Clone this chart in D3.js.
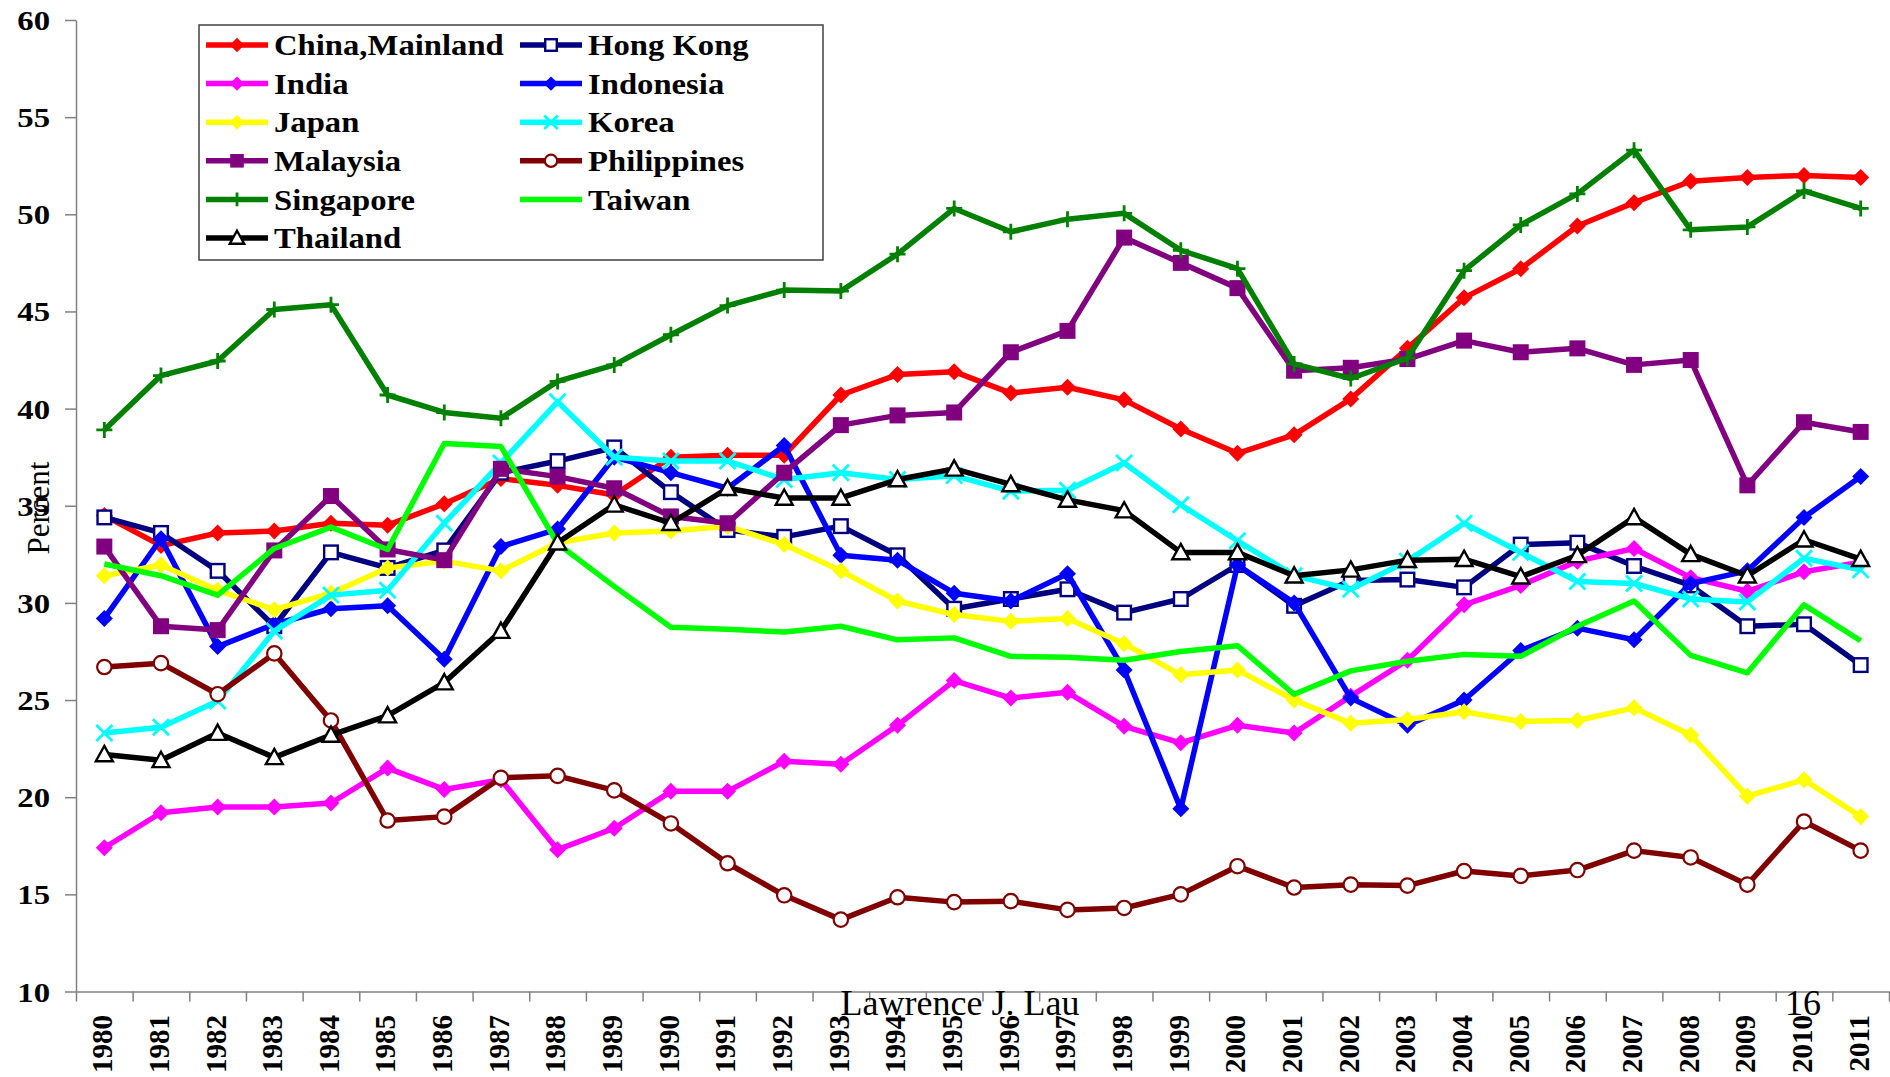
<!DOCTYPE html>
<html>
<head>
<meta charset="utf-8">
<script src="https://cdn.jsdelivr.net/npm/d3@7"></script>
<style>
  body { margin: 0; background: #fff; }
  svg { display: block; }
  text { font-family: "Liberation Serif", "Times New Roman", serif; fill: #000; }
</style>
</head>
<body>
<svg id="chart" width="1890" height="1077"></svg>
<script>

// data, percent
var years = d3.range(1980, 2012);
var yTicks = [10, 15, 20, 25, 30, 35, 40, 45, 50, 55, 60];

var china = [34.5, 32.95, 33.6, 33.7, 34.1, 34.0, 35.1, 36.4, 36.05, 35.55, 37.5, 37.6, 37.6, 40.7, 41.75, 41.9,
    40.8, 41.1, 40.45, 38.95, 37.7, 38.65, 40.5, 43.1, 45.7, 47.2, 49.4, 50.6, 51.7, 51.9, 52.0, 51.9];
var hongKong = [34.4, 33.6, 31.65, 28.8, 32.6, 31.8, 32.7, 36.7, 37.3, 38.0, 35.7, 33.75, 33.4, 33.95, 32.45, 29.7,
    30.2, 30.7, 29.5, 30.2, 31.95, 29.85, 31.15, 31.2, 30.8, 33.0, 33.1, 31.9, 30.9, 28.8, 28.9, 26.8];
var india = [17.4, 19.2, 19.5, 19.5, 19.7, 21.5, 20.4, 20.9, 17.3, 18.4, 20.3, 20.3, 21.85, 21.7, 23.7, 26.0,
    25.1, 25.4, 23.65, 22.8, 23.7, 23.3, 25.2, 27.05, 29.9, 30.9, 32.15, 32.8, 31.3, 30.6, 31.6, 32.1];
var indonesia = [29.2, 33.3, 27.75, 28.9, 29.7, 29.85, 27.1, 32.9, 33.8, 37.5, 36.7, 35.9, 38.1, 32.45, 32.2, 30.5,
    30.1, 31.5, 26.55, 19.4, 31.95, 30.0, 25.1, 23.7, 25.0, 27.55, 28.7, 28.1, 31.0, 31.65, 34.4, 36.5];
var japan = [31.4, 31.95, 30.65, 29.65, 30.5, 31.8, 32.15, 31.65, 33.1, 33.6, 33.7, 33.95, 33.0, 31.65, 30.1, 29.4,
    29.05, 29.2, 27.9, 26.3, 26.55, 25.0, 23.8, 24.0, 24.4, 23.9, 23.95, 24.6, 23.2, 20.05, 20.9, 19.0];
var korea = [23.3, 23.6, 24.95, 28.55, 30.4, 30.65, 34.1, 37.2, 40.35, 37.5, 37.3, 37.3, 36.35, 36.7, 36.35, 36.55,
    35.75, 35.8, 37.2, 35.05, 33.2, 31.4, 30.7, 32.15, 34.1, 32.6, 31.1, 31.0, 30.2, 30.05, 32.3, 31.7];
var malaysia = [32.9, 28.8, 28.6, 32.7, 35.5, 32.75, 32.2, 36.9, 36.5, 35.9, 34.45, 34.1, 36.7, 39.15, 39.65, 39.8,
    42.9, 44.0, 48.8, 47.5, 46.2, 41.95, 42.1, 42.55, 43.5, 42.9, 43.1, 42.25, 42.5, 36.05, 39.3, 38.8];
var philippines = [26.7, 26.9, 25.3, 27.4, 23.95, 18.8, 19.0, 21.0, 21.1, 20.35, 18.65, 16.6, 14.95, 13.7, 14.85, 14.6,
    14.65, 14.2, 14.3, 15.0, 16.45, 15.35, 15.5, 15.45, 16.2, 15.95, 16.25, 17.25, 16.9, 15.5, 18.75, 17.25];
var singapore = [38.9, 41.7, 42.45, 45.1, 45.35, 40.7, 39.8, 39.5, 41.4, 42.25, 43.8, 45.3, 46.1, 46.05, 47.95, 50.3,
    49.1, 49.75, 50.05, 48.15, 47.2, 42.3, 41.55, 42.6, 47.1, 49.45, 51.05, 53.3, 49.2, 49.35, 51.2, 50.3];
var taiwan = [32.0, 31.4, 30.4, 32.8, 33.9, 32.75, 38.2, 38.05, 33.05, 30.85, 28.75, 28.65, 28.5, 28.8, 28.1, 28.2,
    27.25, 27.2, 27.05, 27.5, 27.8, 25.3, 26.5, 27.0, 27.35, 27.25, 28.8, 30.1, 27.3, 26.4, 29.9, 28.05];
var thailand = [22.2, 21.9, 23.3, 22.05, 23.2, 24.2, 25.9, 28.55, 33.1, 35.05, 34.1, 35.9, 35.4, 35.4, 36.35, 36.9,
    36.1, 35.3, 34.75, 32.6, 32.6, 31.4, 31.7, 32.2, 32.25, 31.35, 32.45, 34.4, 32.5, 31.4, 33.25, 32.25];


var series = [
    {name: 'China,Mainland', values: china, color: '#ff0000', marker: 'diamond'},
    {name: 'Hong Kong', values: hongKong, color: '#000080', marker: 'openSquare'},
    {name: 'India', values: india, color: '#ff00ff', marker: 'diamond'},
    {name: 'Indonesia', values: indonesia, color: '#0000ff', marker: 'diamond'},
    {name: 'Japan', values: japan, color: '#ffff00', marker: 'diamond'},
    {name: 'Korea', values: korea, color: '#00ffff', marker: 'cross'},
    {name: 'Malaysia', values: malaysia, color: '#800080', marker: 'square'},
    {name: 'Philippines', values: philippines, color: '#800000', marker: 'circle'},
    {name: 'Singapore', values: singapore, color: '#008000', marker: 'plus'},
    {name: 'Taiwan', values: taiwan, color: '#00ff00', marker: 'none'},
    {name: 'Thailand', values: thailand, color: '#000000', marker: 'triangle'}
];

var svg = d3.select('#chart');
var axisColor = '#808080';

var x = d3.scaleBand()
    .domain(years)
    .range([76, 1889]);

// band edges, for the tick marks between years
var xEdge = d3.scaleLinear()
    .domain([0, years.length])
    .range(x.range());

var y = d3.scaleLinear()
    .domain([10, 60])
    .range([991.5, 20]);

//draw a marker at the origin of a group
function drawMarker(g, type, color, k) {
    k = k || 1;
    var s = 8.5 * k;
    if (type == 'diamond') {
        g.append('path')
            .attr('d', 'M0,' + (-s) + 'L' + s + ',0L0,' + s + 'L' + (-s) + ',0Z')
            .attr('fill', color);
    } else if (type == 'square') {
        s = 8 * k;
        g.append('rect')
            .attr('x', -s).attr('y', -s)
            .attr('width', 2 * s).attr('height', 2 * s)
            .attr('fill', color);
    } else if (type == 'openSquare') {
        s = 6.8 * k;
        g.append('rect')
            .attr('x', -s).attr('y', -s)
            .attr('width', 2 * s).attr('height', 2 * s)
            .attr('fill', '#fff')
            .attr('stroke', color)
            .attr('stroke-width', 2.4);
    } else if (type == 'circle') {
        g.append('circle')
            .attr('r', 7.2 * k)
            .attr('fill', '#fff')
            .attr('stroke', color)
            .attr('stroke-width', 2.2);
    } else if (type == 'triangle') {
        s = 8.5 * k;
        g.append('path')
            .attr('d', 'M0,' + (-s) + 'L' + s + ',' + (s * 0.8) + 'L' + (-s) + ',' + (s * 0.8) + 'Z')
            .attr('fill', '#fff')
            .attr('stroke', color)
            .attr('stroke-width', 2.4);
    } else if (type == 'cross') {
        s = 8 * k;
        g.append('path')
            .attr('d', 'M' + (-s) + ',' + (-s) + 'L' + s + ',' + s + 'M' + s + ',' + (-s) + 'L' + (-s) + ',' + s)
            .attr('stroke', color)
            .attr('stroke-width', 2.8);
    } else if (type == 'plus') {
        s = 8 * k;
        g.append('path')
            .attr('d', 'M' + (-s) + ',0H' + s + 'M0,' + (-s) + 'V' + s)
            .attr('stroke', color)
            .attr('stroke-width', 2.8);
    }
}

// y axis
var yAxis = svg.append('g')
    .attr('class', 'y axis')
    .attr('transform', 'translate(76,0)')
    .call(d3.axisLeft(y)
        .tickValues(yTicks)
        .tickSize(11)
        .tickSizeOuter(0));

yAxis.select('.domain').attr('stroke', axisColor).attr('stroke-width', 1.5);
yAxis.selectAll('.tick line').attr('stroke', axisColor).attr('stroke-width', 1.5);
yAxis.selectAll('.tick text')
    .attr('font-family', '"Liberation Serif", serif')
    .attr('font-weight', 'bold')
    .attr('font-size', 28)
    .attr('fill', '#000')
    .attr('text-anchor', 'end')
    .attr('x', -26 / 1.17)
    .attr('dy', '0.34em')
    .attr('transform', 'scale(1.17,1)');

// x axis: tick marks on band edges
var xAxis = svg.append('g')
    .attr('class', 'x axis')
    .attr('transform', 'translate(0,' + y(10) + ')')
    .call(d3.axisBottom(xEdge)
        .tickValues(d3.range(0, years.length + 1))
        .tickFormat('')
        .tickSize(10)
        .tickSizeOuter(0));

xAxis.select('.domain').attr('stroke', axisColor).attr('stroke-width', 1.5);
xAxis.selectAll('.tick line').attr('stroke', axisColor).attr('stroke-width', 1.5);

// year labels, rotated
svg.append('g')
    .selectAll('.year_label')
    .data(years)
    .enter()
    .append('text')
    .attr('class', 'year_label')
    .attr('transform', function(yr) {
        return 'translate(' + (x(yr) + x.bandwidth() / 2 - 2) + ',1015) rotate(-90)';
    })
    .attr('text-anchor', 'end')
    .attr('dy', '0.34em')
    .attr('font-weight', 'bold')
    .attr('font-size', 29)
    .text(_ => _);

// y axis title
svg.append('text')
    .attr('transform', 'translate(49,508) rotate(-90)')
    .attr('text-anchor', 'middle')
    .attr('font-size', 31)
    .text('Percent');

// series
var line = d3.line()
    .x(function(d, i) { return x(years[i]) + x.bandwidth() / 2; })
    .y(function(d) { return y(d); });

series.forEach(function(s) {

    var g = svg.append('g').attr('class', 'series');

    g.append('path')
        .datum(s.values)
        .attr('d', line)
        .attr('fill', 'none')
        .attr('stroke', s.color)
        .attr('stroke-width', 5.5)
        .attr('stroke-linejoin', 'round');

    g.selectAll('.pt')
        .data(s.values)
        .enter()
        .append('g')
        .attr('class', 'pt')
        .attr('transform', function(d, i) {
            return 'translate(' + (x(years[i]) + x.bandwidth() / 2) + ',' + y(d) + ')';
        })
        .each(function() {
            drawMarker(d3.select(this), s.marker, s.color);
        });
});

// legend
var legend = svg.append('g').attr('class', 'legend');

legend.append('rect')
    .attr('x', 199).attr('y', 25)
    .attr('width', 624).attr('height', 235)
    .attr('fill', '#fff')
    .attr('stroke', '#404040')
    .attr('stroke-width', 1.5);

var items = legend.selectAll('.item')
    .data(series)
    .enter()
    .append('g')
    .attr('class', 'item')
    .attr('transform', function(s, i) {
        var col = i % 2, row = Math.floor(i / 2);
        return 'translate(' + (col == 0 ? 206 : 520) + ',' + (45 + row * 38.6) + ')';
    });

items.append('line')
    .attr('x1', 0).attr('x2', 62)
    .attr('stroke', function(s) { return s.color; })
    .attr('stroke-width', 5.5);

items.append('g')
    .attr('transform', 'translate(31,0)')
    .each(function(s) {
        drawMarker(d3.select(this), s.marker, s.color, 0.85);
    });

items.append('text')
    .attr('x', 68 / 1.09)
    .attr('dy', '0.34em')
    .attr('font-weight', 'bold')
    .attr('font-size', 30)
    .attr('transform', 'scale(1.09,1)')
    .text(function(s) { return s.name; });

// footer texts
svg.append('text')
    .attr('x', 960).attr('y', 1015)
    .attr('text-anchor', 'middle')
    .attr('font-size', 36)
    .text('Lawrence J. Lau');

svg.append('text')
    .attr('x', 1803).attr('y', 1015)
    .attr('text-anchor', 'middle')
    .attr('font-size', 36)
    .text('16');

</script>
</body>
</html>
